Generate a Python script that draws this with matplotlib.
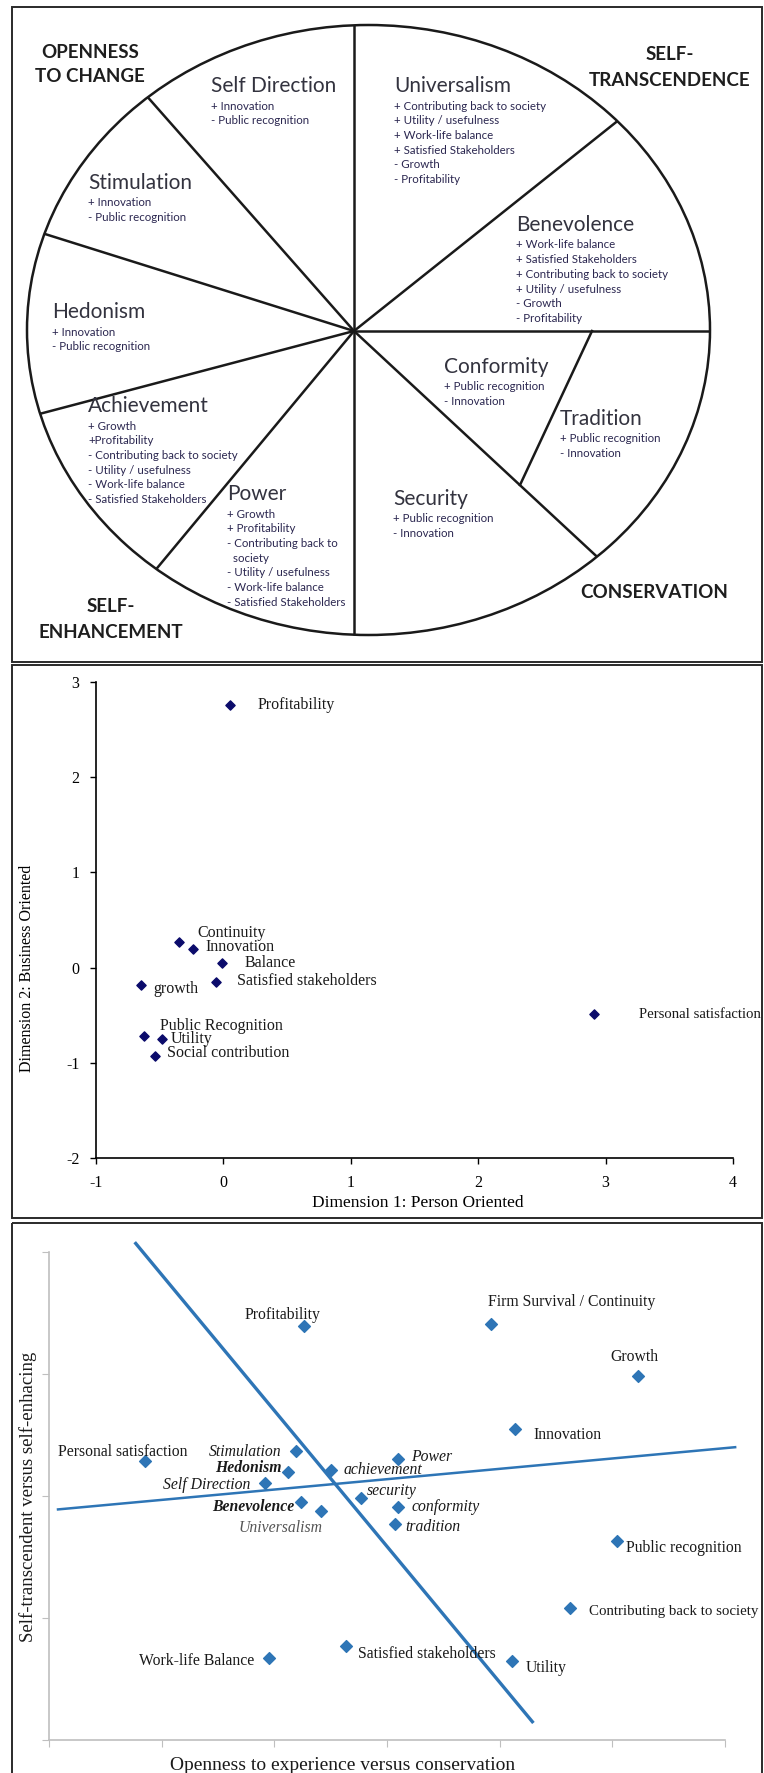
import numpy as np
import matplotlib.pyplot as plt
from matplotlib.patches import Ellipse, Rectangle

plt.rcParams['axes.unicode_minus'] = False

W, H = 764, 1773

# ---- value wheel (panel 1) ----
wheel_titles = ['Self Direction', 'Stimulation', 'Hedonism', 'Universalism', 'Benevolence',
                'Achievement', 'Power', 'Conformity', 'Tradition', 'Security']
wheel_items = [
    ['+ Innovation', '- Public recognition'],
    ['+ Innovation', '- Public recognition'],
    ['+ Innovation', '- Public recognition'],
    ['+ Contributing back to society', '+ Utility / usefulness', '+ Work-life balance',
     '+ Satisfied Stakeholders', '- Growth', '- Profitability'],
    ['+ Work-life balance', '+ Satisfied Stakeholders', '+ Contributing back to society',
     '+ Utility / usefulness', '- Growth', '- Profitability'],
    ['+ Growth', '+Profitability', '- Contributing back to society', '- Utility / usefulness',
     '- Work-life balance', '- Satisfied Stakeholders'],
    ['+ Growth', '+ Profitability', '- Contributing back to', '  society', '- Utility / usefulness',
     '- Work-life balance', '- Satisfied Stakeholders'],
    ['+ Public recognition', '- Innovation'],
    ['+ Public recognition', '- Innovation'],
    ['+ Public recognition', '- Innovation'],
]
wheel_pos = [(211, 86), (88, 183), (52, 312), (394, 86), (516, 225),
             (88, 406), (227, 494), (444, 367), (560, 419), (393, 499)]
quadrants = [(['OPENNESS', 'TO CHANGE'], 90, 52), (['SELF-', 'TRANSCENDENCE'], 670, 55),
             (['SELF-', 'ENHANCEMENT'], 111, 607), (['CONSERVATION'], 654, 592)]

# ---- MDS plot (panel 2) ----
dim_labels = ['Profitability', 'Continuity', 'Innovation', 'Balance', 'Satisfied stakeholders',
              'growth', 'Personal satisfaction', 'Public Recognition', 'Utility', 'Social contribution']
dim1 = [0.05, -0.35, -0.24, -0.01, -0.06, -0.65, 2.91, -0.62, -0.48, -0.54]
dim2 = [2.76, 0.27, 0.20, 0.05, -0.15, -0.18, -0.49, -0.72, -0.75, -0.93]
dim_offsets = [(28, 0), (19, 9), (13, 2), (22, 0), (21, 1), (13, -4), (45, 0), (16, 10), (8, 0), (12, 3)]

# ---- values map (panel 3) ----
val_labels = ['Profitability', 'Firm Survival / Continuity', 'Growth', 'Innovation', 'Personal satisfaction',
              'Stimulation', 'Power', 'Hedonism', 'achievement', 'Self Direction', 'security', 'Benevolence',
              'conformity', 'Universalism', 'tradition', 'Public recognition', 'Contributing back to society',
              'Satisfied stakeholders', 'Work-life Balance', 'Utility']
openness = [2.26, 3.92, 5.23, 4.14, 0.85, 2.19, 3.10, 2.12, 2.50, 1.92, 2.77, 2.24,
            3.10, 2.41, 3.07, 5.04, 4.62, 2.64, 1.95, 4.11]
transcend = [3.39, 3.41, 2.98, 2.55, 2.29, 2.37, 2.30, 2.20, 2.21, 2.11, 1.98, 1.95,
             1.91, 1.88, 1.77, 1.63, 1.08, 0.77, 0.67, 0.65]
val_offsets = [(-21, 11, 'center'), (-3, 22, 'left'), (-4, 19, 'center'), (18, -6, 'left'),
               (-87, 9, 'left'), (-14, -1, 'right'), (13, 2, 'left'), (-6, 4, 'right'),
               (13, 0, 'left'), (-15, -2, 'right'), (6, 7, 'left'), (-7, -5, 'right'),
               (13, 0, 'left'), (-40, -17, 'center'), (10, -3, 'left'), (9, -7, 'left'),
               (19, -3, 'left'), (12, -8, 'left'), (-14, -3, 'right'), (14, -7, 'left')]
italic_vals = ['Stimulation', 'Power', 'Hedonism', 'achievement', 'Self Direction', 'security',
               'Benevolence', 'conformity', 'Universalism', 'tradition']
bold_vals = ['Hedonism', 'Benevolence']
split_x, split_y = [0.77, 4.29], [4.07, 0.15]
trend_x, trend_y = [0.08, 6.09], [1.89, 2.40]

# labels running up to the right frame get a touch smaller so they stay inside
edge_sizes = {'Personal satisfaction': 10.6, 'Contributing back to society': 10.7}

fig = plt.figure(figsize=(W / 100, H / 100), dpi=100)
bg = fig.add_axes([0, 0, 1, 1])
bg.set_xlim(0, W)
bg.set_ylim(H, 0)
bg.axis('off')


def px_rect(x0, y0, x1, y1):
    return [x0 / W, 1 - y1 / H, (x1 - x0) / W, (y1 - y0) / H]


# panel frames
for (x0, y0, x1, y1) in [(12, 7, 762, 662), (12, 665, 762, 1218), (12, 1223, 762, 1780)]:
    bg.add_patch(Rectangle((x0, y0), x1 - x0, y1 - y0, fill=False, ec='#2a2a2a', lw=1.4))

# wheel
cx, cy, ea, eb = 368.5, 330, 341.5, 305
hub = np.array([354.0, 331.0])
bg.add_patch(Ellipse((cx, cy), 2 * ea, 2 * eb, fill=False, ec='#1a1a1a', lw=1.8))
spoke_targets = [(354, 20), (152, 102), (45, 234), (43, 413), (158, 567), (354, 640),
                 (615, 123), (715, 331), (593, 553)]
for tx, ty in spoke_targets:
    d = np.array([tx, ty]) - hub
    d = d / np.hypot(*d)
    # ray / ellipse intersection
    p = hub - [cx, cy]
    A = (d[0] / ea) ** 2 + (d[1] / eb) ** 2
    B = 2 * (p[0] * d[0] / ea ** 2 + p[1] * d[1] / eb ** 2)
    C = (p[0] / ea) ** 2 + (p[1] / eb) ** 2 - 1
    t = (-B + np.sqrt(B * B - 4 * A * C)) / (2 * A)
    e = hub + t * d
    bg.plot([hub[0], e[0]], [hub[1], e[1]], color='#1a1a1a', lw=1.8, solid_capstyle='butt')
bg.plot([520, 592], [485, 331], color='#1a1a1a', lw=1.8)

wheel_font = 'Lato'
for title, items, (x, y) in zip(wheel_titles, wheel_items, wheel_pos):
    bg.text(x, y, title, fontsize=15, family=wheel_font, color='#33333f', va='center', ha='left')
    for i, it in enumerate(items):
        bg.text(x, y + 20 + 14.7 * i, it, fontsize=8.3, family=wheel_font, color='#2b2750',
                va='center', ha='left')
for lines, x, y in quadrants:
    for i, ln in enumerate(lines):
        bg.text(x, y + 25 * i, ln, fontsize=13.5, family=wheel_font, fontweight='bold',
                color='#1e1e1e', ha='center', va='center')

# ---- panel 2 ----
serif = 'Liberation Serif'
ax2 = fig.add_axes(px_rect(96, 682, 733, 1158))
ax2.set_facecolor('none')
ax2.scatter(dim1, dim2, marker='D', s=22, color='#0b0b6b', zorder=3, clip_on=False)
for lab, x, y, (dx, dy) in zip(dim_labels, dim1, dim2, dim_offsets):
    ax2.annotate(lab, (x, y), xytext=(dx, dy), textcoords='offset pixels', ha='left', va='center',
                 fontsize=edge_sizes.get(lab, 11.5), family=serif, color='#1a1a1a',
                 annotation_clip=False)
ax2.set_xlim(-1, 4)
ax2.set_ylim(-2, 3)
ax2.set_xticks(range(-1, 5))
ax2.set_yticks(range(-2, 4))
for s in ['top', 'right']:
    ax2.spines[s].set_visible(False)
for s in ['left', 'bottom']:
    ax2.spines[s].set_linewidth(1.2)
ax2.tick_params(direction='out', length=4, width=1, labelsize=11.5, pad=8)
for lab in ax2.get_xticklabels() + ax2.get_yticklabels():
    lab.set_family(serif)
bg.text(418, 1203, 'Dimension 1: Person Oriented', fontsize=12.5, family=serif, ha='center', va='center')
bg.text(27, 968, 'Dimension 2: Business Oriented', fontsize=11.5, family=serif, ha='center', va='center',
        rotation=90)

# ---- panel 3 ----
ax3 = fig.add_axes(px_rect(49, 1252, 725, 1740))
ax3.set_facecolor('none')
ax3.plot(split_x, split_y, color='#2e75b6', lw=2.4, clip_on=False)
ax3.plot(trend_x, trend_y, color='#2e75b6', lw=1.8, clip_on=False)
ax3.scatter(openness, transcend, marker='D', s=36, color='#2e75b6', zorder=3)
for lab, x, y, (dx, dy, ha) in zip(val_labels, openness, transcend, val_offsets):
    style = 'italic' if lab in italic_vals else 'normal'
    weight = 'bold' if lab in bold_vals else 'normal'
    col = '#555555' if lab == 'Universalism' else '#1a1a1a'
    size = edge_sizes.get(lab, 11.3) if lab == 'Contributing back to society' else 11.3
    ax3.annotate(lab, (x, y), xytext=(dx, dy), textcoords='offset pixels', ha=ha, va='center',
                 fontsize=size, family=serif, style=style, fontweight=weight, color=col,
                 annotation_clip=False)
ax3.set_xlim(0, 6)
ax3.set_ylim(0, 4)
ax3.set_xticks(range(0, 7))
ax3.set_yticks(range(0, 5))
ax3.set_xticklabels([])
ax3.set_yticklabels([])
for s in ['top', 'right']:
    ax3.spines[s].set_visible(False)
for s in ['left', 'bottom']:
    ax3.spines[s].set_color('#bfbfbf')
    ax3.spines[s].set_linewidth(1.2)
ax3.tick_params(direction='out', length=5, color='#bfbfbf')
bg.text(343, 1765, 'Openness to experience versus conservation', fontsize=14, family=serif,
        ha='center', va='center', color='#1a1a1a')
bg.text(28, 1497, 'Self-transcendent versus self-enhacing', fontsize=13.5, family=serif,
        ha='center', va='center', rotation=90, color='#1a1a1a')

fig.savefig('out.png', dpi=100)
